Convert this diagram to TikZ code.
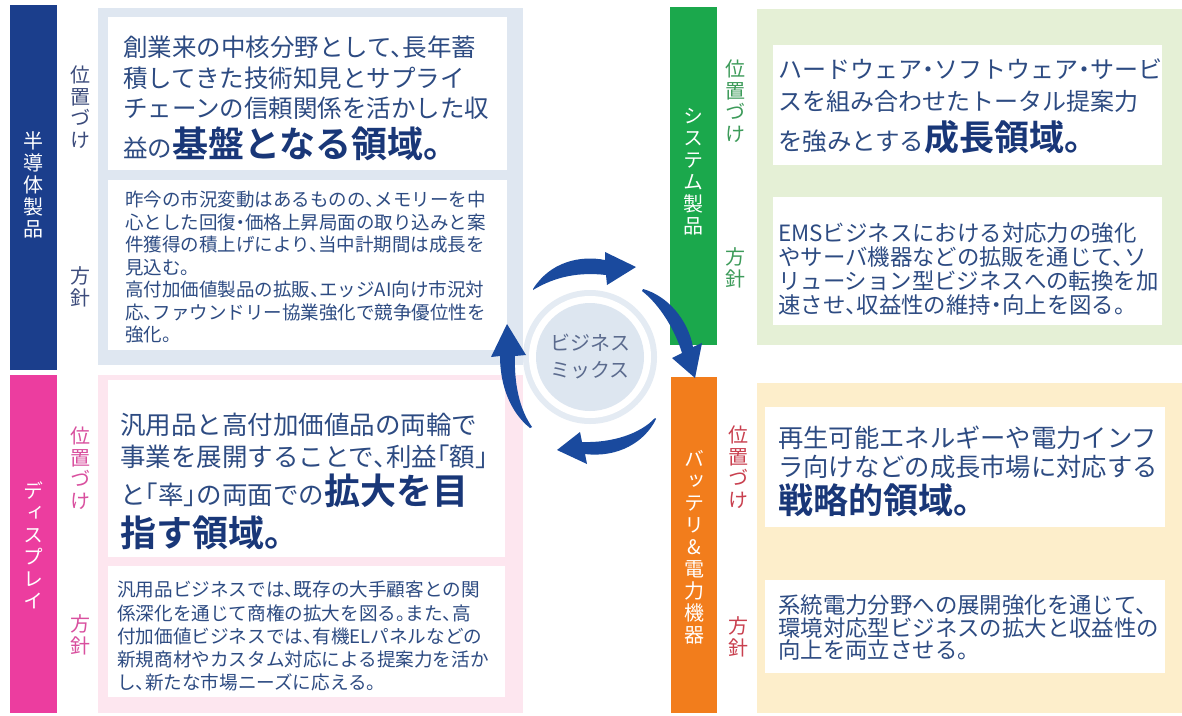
\documentclass[tikz,border=0pt]{standalone}
\usepackage{fontspec}
\setmainfont{Noto Sans CJK JP}[RawFeature=+halt, BoldFont={Noto Sans CJK JP Bold}]
\newfontfamily\jpv{Noto Sans CJK JP}[RawFeature=+vert]
\definecolor{navybar}{RGB}{27,62,140}
\definecolor{pinkbar}{RGB}{236,61,159}
\definecolor{greenbar}{RGB}{27,168,76}
\definecolor{orangebar}{RGB}{242,125,28}
\definecolor{bluepanel}{RGB}{223,231,241}
\definecolor{pinkpanel}{RGB}{253,230,239}
\definecolor{greenpanel}{RGB}{229,240,214}
\definecolor{yellowpanel}{RGB}{253,238,203}
\definecolor{txtc}{RGB}{45,75,130}
\definecolor{bigc}{RGB}{25,55,120}
\definecolor{lblnavy}{RGB}{60,76,124}
\definecolor{lblpink}{RGB}{217,80,159}
\definecolor{lblgreen}{RGB}{61,155,90}
\definecolor{lblorange}{RGB}{201,64,79}
\definecolor{arrowc}{RGB}{26,74,158}
\definecolor{ringc}{RGB}{228,235,243}
\definecolor{discc}{RGB}{221,230,240}
\definecolor{mixtxt}{RGB}{91,107,142}
\newcommand\fs[2]{\fontsize{#1}{#2}\selectfont}
\begin{document}
\begin{tikzpicture}[x=1pt,y=-1pt,
  txt/.style={inner sep=0pt, anchor=north west, align=left, text=txtc},
  bigline/.style={inner sep=0pt, anchor=base west, text=txtc},
  vlbl/.style={inner sep=0pt, align=center, font=\jpv\fs{20}{21.5}},
  bartxt/.style={inner sep=0pt, align=center, text=white, font=\jpv\fs{20}{22}}]
\useasboundingbox (0,0) rectangle (1182,715);
\fill[white] (0,0) rectangle (1182,715);
% bars
\fill[navybar] (10,5) rectangle (57,370);
\fill[pinkbar] (10,375) rectangle (57,713);
\fill[greenbar] (670,7) rectangle (717,345);
\fill[orangebar] (671,377) rectangle (717,713);
% panels
\fill[bluepanel] (98,8) rectangle (523,365);
\fill[pinkpanel] (98,375) rectangle (523,713);
\fill[greenpanel] (757,9) rectangle (1182,345);
\fill[yellowpanel] (757,383) rectangle (1182,713);
% white boxes
\fill[white] (108,17) rectangle (507,170);
\fill[white] (108,180) rectangle (507,350);
\fill[white] (108,380) rectangle (505,557);
\fill[white] (108,566) rectangle (505,697);
\fill[white] (773,45) rectangle (1162,165);
\fill[white] (773,197) rectangle (1162,325);
\fill[white] (765,407) rectangle (1165,527);
\fill[white] (765,580) rectangle (1165,673);
% bar texts
\node[bartxt] (semi) at (33,185) {半\\導\\体\\製\\品};
\node[bartxt] (disp) at (33,545) {デ\\ィ\\ス\\プ\\レ\\イ};
\node[bartxt] (sys) at (693,172) {シ\\ス\\テ\\ム\\製\\品};
\node[bartxt] (batt) at (694,547) {バ\\ッ\\テ\\リ\\\&\\電\\力\\機\\器};
% side labels
\node[vlbl, text=lblnavy] (l1a) at (80,107) {位\\置\\づ\\け};
\node[vlbl, text=lblnavy] (l1b) at (80,287) {方\\針};
\node[vlbl, text=lblpink] (l2a) at (80,468) {位\\置\\づ\\け};
\node[vlbl, text=lblpink] (l2b) at (80,635) {方\\針};
\node[vlbl, text=lblgreen] (l3a) at (735,101) {位\\置\\づ\\け};
\node[vlbl, text=lblgreen] (l3b) at (735,268) {方\\針};
\node[vlbl, text=lblorange] (l4a) at (738,467) {位\\置\\づ\\け};
\node[vlbl, text=lblorange] (l4b) at (738,637) {方\\針};
% top-left texts
\node[txt, font=\fs{24.5}{30.5}] (t1) at (123,36) {創業来の中核分野として、長年蓄\\積してきた技術知見とサプライ\\チェーンの信頼関係を活かした収};
\node[bigline, font=\fs{24.5}{30}] (t1b) at (123,157) {益の{\fs{36}{40}\bfseries\color{bigc}基盤となる領域。}};
\node[txt, font=\fs{18.5}{22.5}] (t2) at (125,191) {昨今の市況変動はあるものの、メモリーを中\\心とした回復・価格上昇局面の取り込みと案\\件獲得の積上げにより、当中計期間は成長を\\見込む。\\高付加価値製品の拡販、エッジAI向け市況対\\応、ファウンドリー協業強化で競争優位性を\\強化。};
% pink texts
\node[txt, font=\fs{25.5}{32}] (p1) at (120,413) {汎用品と高付加価値品の両輪で\\事業を展開することで、利益「額」};
\node[bigline, font=\fs{25.5}{30}] (p1b) at (120,504) {と「率」の両面での{\fs{36}{40}\bfseries\color{bigc}拡大を目}};
\node[bigline, font=\fs{36}{40}\bfseries, text=bigc] (p1c) at (120,546) {指す領域。};
\node[txt, font=\fs{18.6}{23.25}] (p2) at (117,581) {汎用品ビジネスでは、既存の大手顧客との関\\係深化を通じて商権の拡大を図る。また、高\\付加価値ビジネスでは、有機ELパネルなどの\\新規商材やカスタム対応による提案力を活か\\し、新たな市場ニーズに応える。};
% green texts
\node[txt, font=\fs{24}{32}] (g1) at (778,59) {ハードウェア・ソフトウェア・サービ\\スを組み合わせたトータル提案力};
\node[bigline, font=\fs{24.5}{30}] (g1b) at (778,150) {を強みとする{\fs{35}{40}\bfseries\color{bigc}成長領域。}};
\node[txt, font=\fs{22.4}{24}] (g2) at (778,222.5) {EMSビジネスにおける対応力の強化\\やサーバ機器などの拡販を通じて、ソ\\リューション型ビジネスへの転換を加\\速させ、収益性の維持・向上を図る。};
% orange texts
\node[txt, font=\fs{25.3}{29}] (o1) at (778,426) {再生可能エネルギーや電力インフ\\ラ向けなどの成長市場に対応する};
\node[bigline, font=\fs{35}{40}\bfseries, text=bigc] (o1b) at (778,513) {戦略的領域。};
\node[txt, font=\fs{22.4}{22.5}] (o2) at (778,594.5) {系統電力分野への展開強化を通じて、\\環境対応型ビジネスの拡大と収益性の\\向上を両立させる。};
% center circle
\fill[ringc] (590,357) circle (67);
\fill[white] (590,357) circle (61);
\node[circle, fill=discc, minimum size=108pt, inner sep=0pt, align=center, text=mixtxt, font=\fs{20}{27}] (mix) at (590,357) {ビジネス\\ミックス};
% arrows
\fill[arrowc] (533,289) .. controls (550,262) and (580,255) .. (605,260) -- (605,252) -- (636,267) -- (607,285) -- (606,275) .. controls (580,272) and (556,276) .. (533,290) -- cycle;
\fill[arrowc] (643,289) .. controls (668,296) and (688,320) .. (693,347) -- (702,343) -- (695,378) -- (672,358) -- (682,353) .. controls (675,330) and (660,305) .. (642,291) -- cycle;
\fill[arrowc] (655,418) .. controls (640,434) and (612,443) .. (582,442) -- (580,432) -- (557,450) -- (587,464) -- (585,454) .. controls (618,458) and (645,442) .. (656,419) -- cycle;
\fill[arrowc] (530,428) .. controls (510,412) and (500,385) .. (500,356) -- (491,357) -- (507,324) -- (526,355) -- (515,356) .. controls (514,385) and (520,410) .. (532,427) -- cycle;
\end{tikzpicture}
\end{document}
